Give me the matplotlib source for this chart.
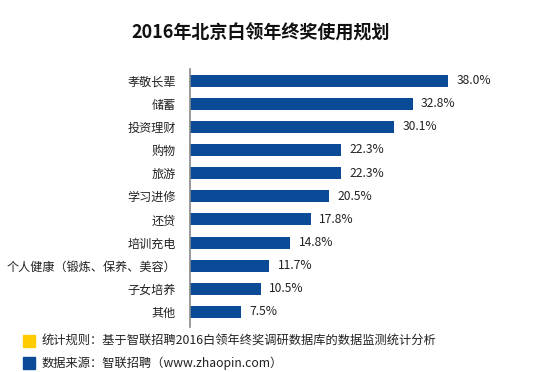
import matplotlib
matplotlib.use("Agg")
import matplotlib.pyplot as plt
from matplotlib.patches import Rectangle

plt.rcParams['font.family'] = ['Noto Sans CJK SC', 'DejaVu Sans']

categories = ["孝敬长辈", "储蓄", "投资理财", "购物", "旅游", "学习进修", "还贷",
              "培训充电", "个人健康（锻炼、保养、美容）", "子女培养", "其他"]
values = [38.0, 32.8, 30.1, 22.3, 22.3, 20.5, 17.8, 14.8, 11.7, 10.5, 7.5]
title = "2016年北京白领年终奖使用规划"
notes = ["统计规则：基于智联招聘2016白领年终奖调研数据库的数据监测统计分析",
         "数据来源：智联招聘（www.zhaopin.com）"]
note_colors = ["#FFCC00", "#0A4A96"]

W, H = 545, 372
fig = plt.figure(figsize=(W / 100, H / 100), dpi=100)
ax = fig.add_axes([190 / W, 1 - 327 / H, (545 - 190) / W, (327 - 69) / H])

bar_color = "#0A4A96"
ypos = list(range(len(categories)))
ax.barh(ypos, values, height=0.52, color=bar_color)
ax.set_ylim(len(categories) - 0.35, -0.5)
ax.set_xlim(0, (545 - 190) / ((448 - 190) / 38.0))
ax.set_yticks(ypos)
ax.set_yticklabels(categories, fontsize=8.7, color="#222222")
ax.tick_params(axis='y', length=0, pad=10)
ax.set_xticks([])
for s in ["top", "right", "bottom"]:
    ax.spines[s].set_visible(False)
ax.spines["left"].set_color("#888888")
ax.spines["left"].set_linewidth(1.2)
for y, v in zip(ypos, values):
    ax.text(v + 1.2, y, f"{v:.1f}%", va="center", ha="left", fontsize=8.7, color="#222222")

fig.text(261 / W, 1 - 33 / H, title, ha="center", va="center", fontsize=13,
         fontweight="bold", color="#111111")

for i, (t, c) in enumerate(zip(notes, note_colors)):
    yc = 341 + i * 22
    fig.patches.append(Rectangle((23 / W, 1 - (yc + 6) / H), 12 / W, 12 / H,
                                 transform=fig.transFigure, color=c))
    fig.text(42 / W, 1 - yc / H, t, ha="left", va="center", fontsize=8.8, color="#222222")

fig.savefig("out.png", dpi=100)
